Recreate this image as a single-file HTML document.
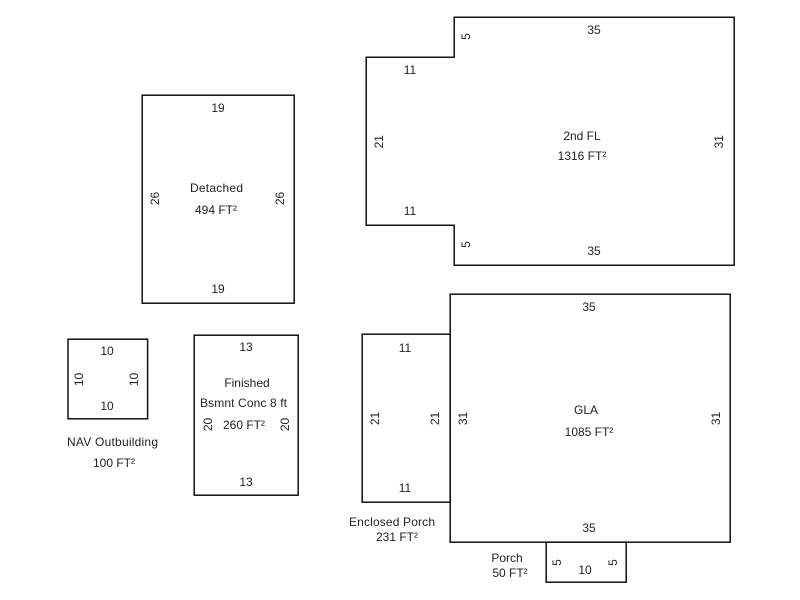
<!DOCTYPE html>
<html><head><meta charset="utf-8"><style>
html,body{margin:0;padding:0;background:#fff;width:800px;height:600px;overflow:hidden}
svg{display:block}
text{font-family:"Liberation Sans",Arial,sans-serif;font-size:12px;fill:#222;text-anchor:middle}
path,rect{fill:none;stroke:#111;stroke-width:1.5}
</style></head><body>
<svg width="800" height="600" viewBox="0 0 800 600" xmlns="http://www.w3.org/2000/svg">
<path d="M454.2 17.2H734.2V265.2H454.2V225.2H366.2V57.2H454.2Z"/>
<rect x="142.2" y="95.2" width="152" height="208"/>
<rect x="68" y="339.2" width="79.6" height="79.6"/>
<rect x="194.2" y="335.2" width="104" height="160"/>
<rect x="362.2" y="334.2" width="88" height="168"/>
<rect x="450.2" y="294.2" width="280" height="248"/>
<rect x="546.2" y="542.2" width="80" height="40"/>

<text x="594" y="34">35</text>
<text x="410" y="74">11</text>
<text x="410" y="215">11</text>
<text x="594" y="255">35</text>
<text x="582" y="140">2nd FL</text>
<text x="582" y="160">1316 FT²</text>
<text transform="translate(470,36.5) rotate(-90)">5</text>
<text transform="translate(470,244.5) rotate(-90)">5</text>
<text transform="translate(383,141.7) rotate(-90)">21</text>
<text transform="translate(723,141.7) rotate(-90)">31</text>

<text x="218" y="112">19</text>
<text x="218" y="293">19</text>
<text x="216.5" y="192" textLength="53">Detached</text>
<text x="216" y="214">494 FT²</text>
<text transform="translate(159,198.5) rotate(-90)">26</text>
<text transform="translate(284,198.5) rotate(-90)">26</text>

<text x="107" y="355">10</text>
<text x="107" y="410">10</text>
<text transform="translate(83,379.5) rotate(-90)">10</text>
<text transform="translate(138,379.5) rotate(-90)">10</text>
<text x="112.5" y="446" textLength="91">NAV Outbuilding</text>
<text x="114" y="467">100 FT²</text>

<text x="246" y="351">13</text>
<text x="246" y="486">13</text>
<text x="247" y="387">Finished</text>
<text x="243.5" y="407" textLength="87">Bsmnt Conc 8 ft</text>
<text x="244" y="429">260 FT²</text>
<text transform="translate(212,424.5) rotate(-90)">20</text>
<text transform="translate(289,424.5) rotate(-90)">20</text>

<text x="405" y="352">11</text>
<text x="405" y="492">11</text>
<text transform="translate(379,418.5) rotate(-90)">21</text>
<text transform="translate(439,418.5) rotate(-90)">21</text>
<text x="392" y="526" textLength="86">Enclosed Porch</text>
<text x="397" y="541">231 FT²</text>

<text x="589" y="311">35</text>
<text x="589" y="532">35</text>
<text x="586" y="414">GLA</text>
<text x="589" y="436">1085 FT²</text>
<text transform="translate(467,418.5) rotate(-90)">31</text>
<text transform="translate(720,418.5) rotate(-90)">31</text>

<text x="507" y="562">Porch</text>
<text x="510" y="577">50 FT²</text>
<text x="585" y="574">10</text>
<text transform="translate(561,562.5) rotate(-90)">5</text>
<text transform="translate(617,562.5) rotate(-90)">5</text>
</svg>
</body></html>
